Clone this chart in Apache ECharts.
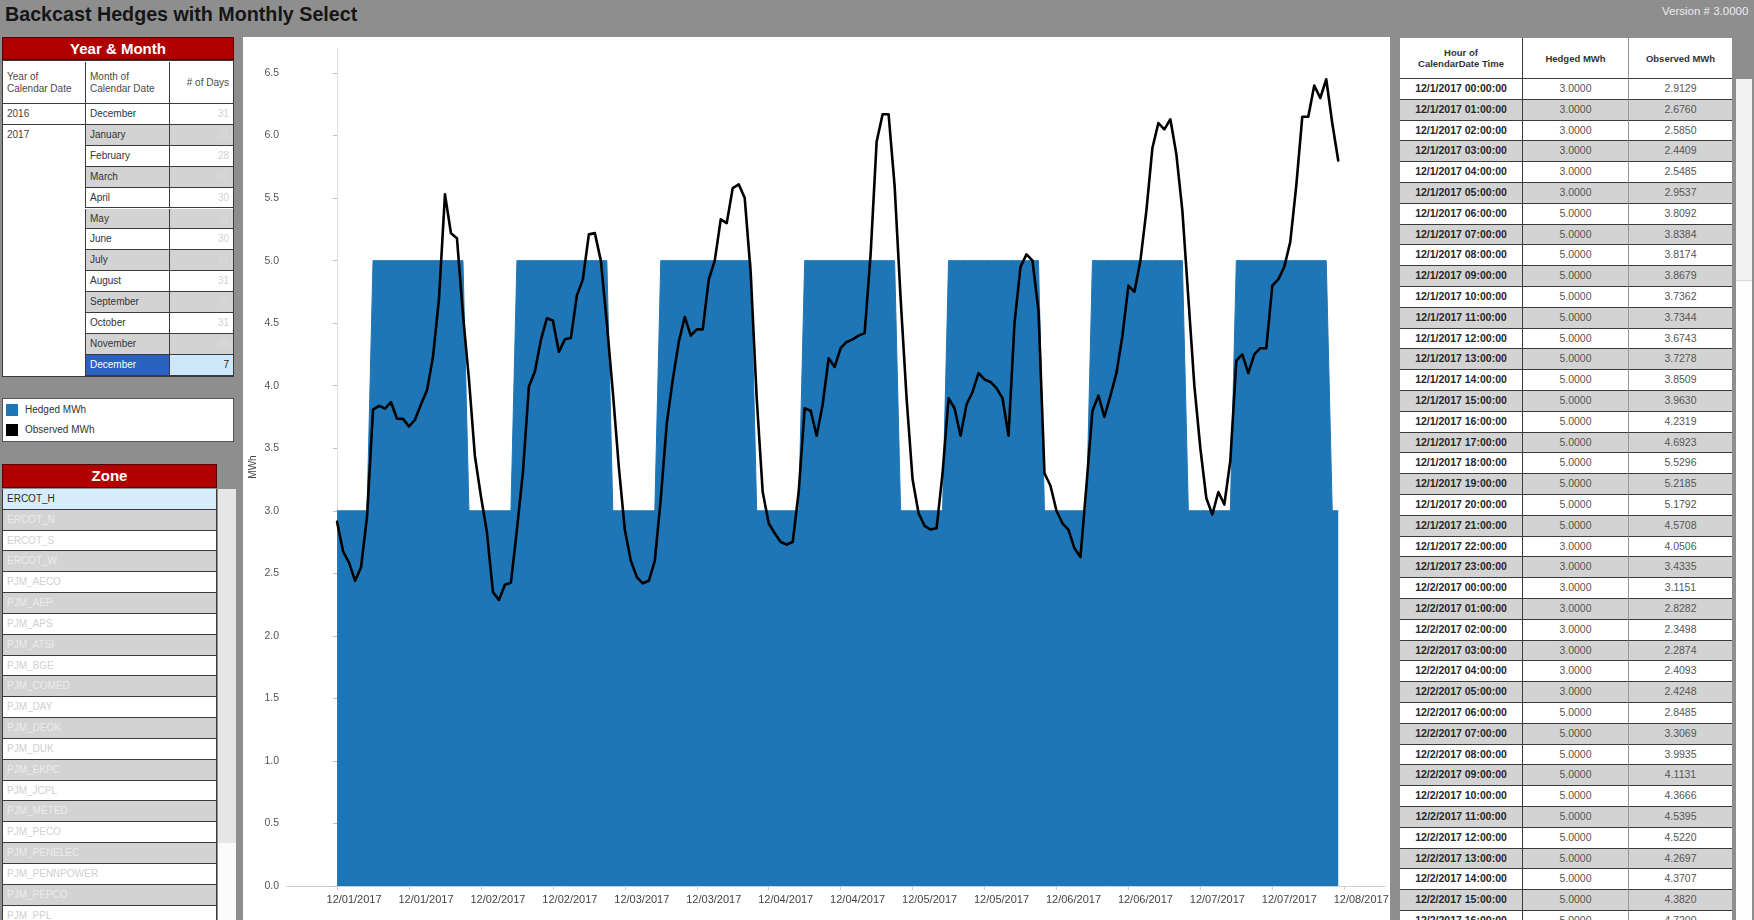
<!DOCTYPE html>
<html>
<head>
<meta charset="utf-8">
<title>Backcast Hedges with Monthly Select</title>
<script src="https://cdn.jsdelivr.net/npm/echarts@6/dist/echarts.min.js"></script>
<style>
  html, body { margin: 0; padding: 0; }
  body {
    width: 1754px; height: 920px; overflow: hidden; position: relative;
    background: #8e8e8e;
    font-family: "Liberation Sans", Arial, sans-serif;
  }
  .abs { position: absolute; box-sizing: border-box; white-space: nowrap; overflow: hidden; }
  #title { left: 5px; top: 3px; font-size: 19.7px; font-weight: bold; color: #161616; overflow: visible; }
  #version { left: 1662px; top: 5px; font-size: 11.5px; color: #ececec; overflow: visible; }
  .redhead {
    background: #b00000; color: #fff; font-weight: bold; font-size: 15px; text-align: center;
    border: 1px solid #5c0000;
  }
  #chart { left: 243px; top: 37px; width: 1147px; height: 883px; background: #fff; }
</style>
</head>
<body>
<div id="title" class="abs">Backcast Hedges with Monthly Select</div>
<div id="version" class="abs">Version # 3.0000</div>
<div id="chart" class="abs"></div>

<script>
// ---- Data ---------------------------------------------------------------

// Hourly hedged volume (MWh), 12/1/2017 00:00 .. 12/7/2017 23:00
const hedgedMWh = [
  3,3,3,3,3,3,5,5,5,5,5,5,5,5,5,5,5,5,5,5,5,5,3,3,
  3,3,3,3,3,3,5,5,5,5,5,5,5,5,5,5,5,5,5,5,5,5,3,3,
  3,3,3,3,3,3,5,5,5,5,5,5,5,5,5,5,5,5,5,5,5,5,3,3,
  3,3,3,3,3,3,5,5,5,5,5,5,5,5,5,5,5,5,5,5,5,5,3,3,
  3,3,3,3,3,3,5,5,5,5,5,5,5,5,5,5,5,5,5,5,5,5,3,3,
  3,3,3,3,3,3,5,5,5,5,5,5,5,5,5,5,5,5,5,5,5,5,3,3,
  3,3,3,3,3,3,5,5,5,5,5,5,5,5,5,5,5,5,5,5,5,5,3,3
];

// Hourly observed load (MWh), same hours
const observedMWh = [
  2.9129, 2.6760, 2.5850, 2.4409, 2.5485, 2.9537, 3.8092, 3.8384, 3.8174, 3.8679, 3.7362, 3.7344,
  3.6743, 3.7278, 3.8509, 3.9630, 4.2319, 4.6923, 5.5296, 5.2185, 5.1792, 4.5708, 4.0506, 3.4335,
  3.1151, 2.8282, 2.3498, 2.2874, 2.4093, 2.4248, 2.8485, 3.3069, 3.9935, 4.1131, 4.3666, 4.5395,
  4.5220, 4.2697, 4.3707, 4.3820, 4.72, 4.85, 5.21, 5.22, 5.00, 4.50, 3.95, 3.35,
  2.85, 2.60, 2.47, 2.42, 2.44, 2.60, 3.10, 3.70, 4.05, 4.35, 4.55, 4.40,
  4.45, 4.45, 4.85, 5.00, 5.33, 5.30, 5.58, 5.61, 5.50, 4.90, 3.90, 3.15,
  2.90, 2.82, 2.75, 2.73, 2.75, 3.15, 3.82, 3.80, 3.60, 3.85, 4.22, 4.15,
  4.30, 4.35, 4.37, 4.40, 4.42, 5.05, 5.95, 6.17, 6.17, 5.60, 4.70, 3.90,
  3.25, 2.98, 2.88, 2.85, 2.86, 3.30, 3.90, 3.82, 3.60, 3.85, 3.95, 4.10,
  4.05, 4.03, 3.98, 3.90, 3.60, 4.50, 4.95, 5.05, 5.00, 4.60, 3.30, 3.20,
  3.00, 2.90, 2.85, 2.70, 2.63, 3.20, 3.80, 3.92, 3.75, 3.92, 4.10, 4.40,
  4.80, 4.75, 5.00, 5.40, 5.90, 6.10, 6.05, 6.13, 5.85, 5.40, 4.70, 4.00,
  3.50, 3.10, 2.97, 3.15, 3.05, 3.40, 4.20, 4.25, 4.10, 4.25, 4.30, 4.30,
  4.80, 4.85, 4.95, 5.15, 5.60, 6.15, 6.15, 6.40, 6.30, 6.45, 6.10, 5.80
];

// Date-axis ticks (hours since 12/1/2017 00:00) and their labels
const tickHours = [0, 12, 24, 36, 48, 60, 72, 84, 96, 108, 120, 132, 144, 156, 168];
const tickLabels = [
  '12/01/2017', '12/01/2017', '12/02/2017', '12/02/2017', '12/03/2017', '12/03/2017',
  '12/04/2017', '12/04/2017', '12/05/2017', '12/05/2017', '12/06/2017', '12/06/2017',
  '12/07/2017', '12/07/2017', '12/08/2017'
];

// Year & Month filter
const ymYears = ['2016', '2017'];
const ymMonths = ['December', 'January', 'February', 'March', 'April', 'May', 'June',
                  'July', 'August', 'September', 'October', 'November', 'December'];
const ymDays = ['31', '31', '28', '31', '30', '31', '30', '31', '31', '30', '31', '30', '7'];

// Zone filter
const zones = ['ERCOT_H', 'ERCOT_N', 'ERCOT_S', 'ERCOT_W', 'PJM_AECO', 'PJM_AEP', 'PJM_APS',
               'PJM_ATSI', 'PJM_BGE', 'PJM_COMED', 'PJM_DAY', 'PJM_DEOK', 'PJM_DUK', 'PJM_EKPC',
               'PJM_JCPL', 'PJM_METED', 'PJM_PECO', 'PJM_PENELEC', 'PJM_PENNPOWER', 'PJM_PEPCO', 'PJM_PPL'];

// Detail table row labels
const tableDays = ['12/1/2017', '12/2/2017'];
const tableHours = ['00:00:00', '01:00:00', '02:00:00', '03:00:00', '04:00:00', '05:00:00',
                    '06:00:00', '07:00:00', '08:00:00', '09:00:00', '10:00:00', '11:00:00',
                    '12:00:00', '13:00:00', '14:00:00', '15:00:00', '16:00:00', '17:00:00',
                    '18:00:00', '19:00:00', '20:00:00', '21:00:00', '22:00:00', '23:00:00'];

// ---- Panels -------------------------------------------------------------

function box(x, y, w, h, css, html) {
  const d = document.createElement('div');
  d.className = 'abs';
  d.style.left = x + 'px'; d.style.top = y + 'px';
  d.style.width = w + 'px'; d.style.height = h + 'px';
  if (css) d.style.cssText += css;
  if (html !== undefined) d.innerHTML = html;
  document.body.appendChild(d);
  return d;
}

const GRAY = '#d3d3d3';
const LINE = '#3a3a3a';

// Year & Month
(function () {
  const h = box(2, 37, 232, 23, '', 'Year &amp; Month');
  h.className += ' redhead'; h.style.lineHeight = '21px';
  box(2, 60, 232, 317, 'background:#fff;border:1px solid ' + LINE + ';');
  const hdr = 'font-size:10px;color:#4a4a4a;white-space:normal;line-height:12px;display:flex;align-items:center;border-bottom:1px solid ' + LINE + ';';
  box(3, 62, 82, 42, hdr + 'padding-left:4px;', 'Year of<br>Calendar Date');
  box(85, 62, 84, 42, hdr + 'padding-left:4px;border-left:1px solid ' + LINE + ';', 'Month of<br>Calendar Date');
  box(169, 62, 64, 42, hdr + 'justify-content:flex-end;padding-right:4px;border-left:1px solid ' + LINE + ';', '# of Days');
  const rh = 20.9, top = 104;
  for (let i = 0; i < ymMonths.length; i++) {
    const y = top + i * rh;
    const sel = i === ymMonths.length - 1;
    const bg = sel ? '#2a62bf' : (i % 2 ? GRAY : '#fff');
    const bg3 = sel ? '#cde8fb' : bg;
    const c2 = sel ? '#fff' : '#333';
    const c3 = sel ? '#222' : (i % 2 ? '#dcdcdc' : '#d2d2d2');
    box(85, y, 84, rh, 'background:' + bg + ';color:' + c2 + ';font-size:10px;line-height:' + (rh - 1) + 'px;padding-left:4px;border-left:1px solid ' + LINE + ';border-bottom:1px solid ' + LINE + ';', ymMonths[i]);
    box(169, y, 64, rh, 'background:' + bg3 + ';color:' + c3 + ';font-size:10px;line-height:' + (rh - 1) + 'px;text-align:right;padding-right:4px;border-left:1px solid ' + LINE + ';border-bottom:1px solid ' + LINE + ';', ymDays[i]);
  }
  box(3, top, 82, rh, 'background:#fff;color:#444;font-size:10px;line-height:' + (rh - 1) + 'px;padding-left:4px;border-bottom:1px solid ' + LINE + ';', ymYears[0]);
  box(3, top + rh, 82, rh * 12 - 1, 'background:#fff;color:#444;font-size:10px;line-height:' + (rh - 1) + 'px;padding-left:4px;', ymYears[1]);
})();

// Legend
(function () {
  box(2, 398, 232, 44, 'background:#fff;border:1px solid #555;');
  box(6, 404, 12, 12, 'background:#1f76b6;');
  box(6, 424, 12, 12, 'background:#000;');
  box(25, 403, 150, 14, 'font-size:10px;color:#333;line-height:14px;', 'Hedged MWh');
  box(25, 423, 150, 14, 'font-size:10px;color:#333;line-height:14px;', 'Observed MWh');
})();

// Zone
(function () {
  const h = box(2, 464, 215, 24, '', 'Zone');
  h.className += ' redhead'; h.style.lineHeight = '22px';
  const rh = 20.83, top = 489;
  for (let i = 0; i < zones.length; i++) {
    const y = top + i * rh;
    let bg = i % 2 ? GRAY : '#fff', c = i % 2 ? '#ececec' : '#d0d0d0';
    if (i === 0) { bg = '#d6ecfb'; c = '#2a2a2a'; }
    box(2, y, 215, rh, 'background:' + bg + ';color:' + c + ';font-size:10px;line-height:' + (rh - 1) + 'px;padding-left:4px;border:1px solid ' + LINE + ';border-top:none;', zones[i]);
  }
  box(218, 489, 18, 354, 'background:#e6e6e6;');
  box(218, 843, 18, 77, 'background:#fbfbfb;');
})();

// Detail table
(function () {
  const cols = [[1400, 122], [1522, 106], [1628, 104]];
  const hdr = 'background:#fff;font-size:9.5px;color:#333;font-weight:bold;white-space:normal;line-height:11px;display:flex;align-items:center;justify-content:center;text-align:center;border-bottom:1px solid ' + LINE + ';';
  box(cols[0][0], 38, cols[0][1], 41, hdr, 'Hour of<br>CalendarDate Time');
  box(cols[1][0], 38, cols[1][1], 41, hdr + 'border-left:1px solid ' + LINE + ';', 'Hedged MWh');
  box(cols[2][0], 38, cols[2][1], 41, hdr + 'border-left:1px solid #999;', 'Observed MWh');
  const rh = 20.8, top = 79;
  for (let i = 0; i < 41; i++) {
    const y = top + i * rh;
    const bg = i % 2 ? GRAY : '#fff';
    const label = tableDays[Math.floor(i / 24)] + ' ' + tableHours[i % 24];
    const base = 'background:' + bg + ';font-size:10.5px;line-height:' + (rh - 1) + 'px;text-align:center;border-bottom:1px solid ' + LINE + ';';
    box(cols[0][0], y, cols[0][1], rh, base + 'color:#262626;font-weight:bold;', label);
    box(cols[1][0], y, cols[1][1], rh, base + 'color:#555;border-left:1px solid ' + LINE + ';', hedgedMWh[i].toFixed(4));
    box(cols[2][0], y, cols[2][1], rh, base + 'color:#555;border-left:1px solid #999;', observedMWh[i].toFixed(4));
  }
  box(1736, 79, 16, 841, 'background:#fdfdfd;');
  box(1736, 79, 16, 202, 'background:#f2f2f2;border-bottom:1px solid #d8d8d8;');
})();

// ---- Chart --------------------------------------------------------------

const hourIndex = observedMWh.map((_, i) => i);
const chart = echarts.init(document.getElementById('chart'), null, { renderer: 'canvas' });
chart.setOption({
  animation: false,
  backgroundColor: '#fff',
  grid: { left: 44, right: 5, top: 11, bottom: 34, containLabel: false, outerBoundsMode: 'none' },
  xAxis: {
    type: 'value',
    min: -8.35,
    max: 174.8,
    splitLine: { show: false },
    axisLine: { lineStyle: { color: '#cfcfcf', width: 1 } },
    axisTick: { customValues: tickHours, length: 4, lineStyle: { color: '#cfcfcf' } },
    axisLabel: {
      customValues: tickHours,
      formatter: v => tickLabels[tickHours.indexOf(v)],
      color: '#444', fontSize: 11, margin: 8,
      padding: [0, 0, 0, 34],
      fontFamily: '"Liberation Sans", Arial, sans-serif'
    }
  },
  yAxis: {
    type: 'value',
    min: 0,
    max: 6.7,
    interval: 0.5,
    name: 'MWh',
    nameLocation: 'middle',
    nameGap: 29,
    nameMoveOverlap: false,
    nameTextStyle: { color: '#444', fontSize: 10, fontFamily: '"Liberation Sans", Arial, sans-serif' },
    splitLine: { show: false },
    axisLine: { show: true, lineStyle: { color: '#dcdcdc' } },
    axisTick: { show: true, length: 4, lineStyle: { color: '#bbb' } },
    axisLabel: {
      showMaxLabel: false,
      formatter: v => v.toFixed(1),
      color: '#555', fontSize: 10.5, margin: 8,
      fontFamily: '"Liberation Sans", Arial, sans-serif'
    }
  },
  series: [
    {
      name: 'Hedged MWh',
      type: 'line',
      data: hourIndex.map(i => [i, hedgedMWh[i]]),
      symbol: 'none',
      lineStyle: { color: '#1f76b6', width: 1 },
      areaStyle: { color: '#1f76b6', opacity: 1 },
      z: 1
    },
    {
      name: 'Observed MWh',
      type: 'line',
      data: hourIndex.map(i => [i, observedMWh[i]]),
      symbol: 'none',
      lineStyle: { color: '#000', width: 2.6, join: 'round', cap: 'round' },
      z: 2
    }
  ]
});
</script>
</body>
</html>
